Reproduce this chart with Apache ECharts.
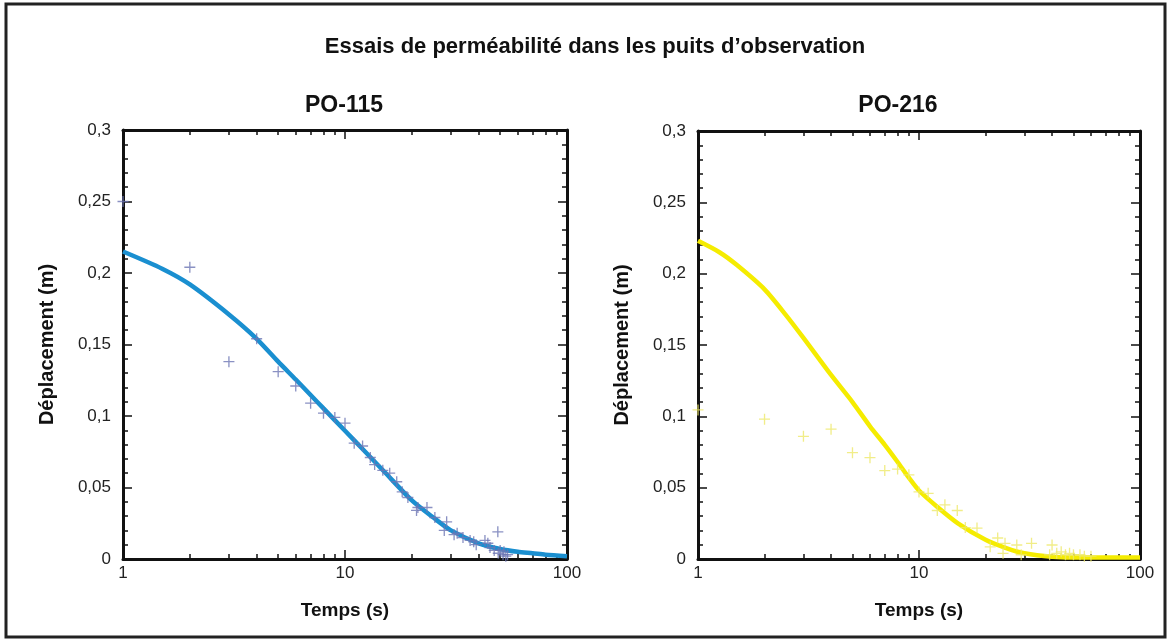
<!DOCTYPE html>
<html>
<head>
<meta charset="utf-8">
<script src="https://cdn.jsdelivr.net/npm/echarts@6/dist/echarts.min.js"></script>
<style>
html,body{margin:0;padding:0;background:#fff;}
#chart{width:1171px;height:642px;}
</style>
</head>
<body>
<div id="chart"></div>
<script>
// ---- data ----
var mainTitle = "Essais de perméabilité dans les puits d’observation";
var panelTitles = ["PO-115", "PO-216"];
var yAxisName = "Déplacement (m)";
var xAxisName = "Temps (s)";
var minorTickValues = [2,3,4,5,6,7,8,9,20,30,40,50,60,70,80,90];

var po115Times = [1,2,3,4,5,6,7,8,9,10,11,12,13,13.6,14.8,15.9,17.1,18.1,19.2,21,21.3,23.4,25.4,28,28.7,31,32,34,36.6,38,39,42.7,44,45,47,48.8,49,50,51.5,52,53,54];
var po115Obs   = [0.25,0.204,0.138,0.154,0.131,0.121,0.109,0.102,0.099,0.095,0.081,0.079,0.071,0.066,0.062,0.060,0.054,0.047,0.043,0.034,0.036,0.036,0.029,0.020,0.026,0.017,0.018,0.015,0.013,0.012,0.010,0.013,0.011,0.008,0.006,0.019,0.004,0.006,0.003,0.005,0.002,0.003];
var po115FitTimes = [1,1.5,2,3,4,5,6,7,8,10,12,15,20,25,30,40,50,60,70,80,100];
var po115Fit      = [0.215,0.203,0.192,0.171,0.154,0.138,0.1255,0.1147,0.1053,0.0897,0.0769,0.0612,0.041,0.029,0.020,0.011,0.007,0.005,0.004,0.003,0.002];

var po216Times = [1,2,3,4,5,6,7,8,9,10,11,12.1,13.1,14.9,16.2,18.3,21,22.7,24,24.5,27.7,29,32.3,39,40,42,44,46,48,50,53.5,56,60];
var po216Obs   = [0.1045,0.098,0.086,0.091,0.0745,0.071,0.062,0.063,0.059,0.047,0.046,0.034,0.038,0.034,0.022,0.0217,0.0085,0.0147,0.004,0.011,0.0098,0.003,0.011,0.003,0.0098,0.004,0.005,0.003,0.004,0.003,0.003,0.002,0.002];
var po216FitTimes = [1,1.25,1.5,2,2.5,3,4,5,6,7,8,9,10,12,15,20,25,30,40,50,70,100];
var po216Fit      = [0.223,0.215,0.206,0.189,0.171,0.155,0.129,0.110,0.093,0.080,0.068,0.057,0.048,0.037,0.025,0.0135,0.0075,0.004,0.0015,0.001,0.001,0.001];

function pairs(xs, ys){ return xs.map(function(x,i){ return [x, ys[i]]; }); }

var FONT = "Liberation Sans, Arial, sans-serif";
var plusPath = 'path://M4.4,0h1.2v4.4h4.4v1.2h-4.4v4.4h-1.2v-4.4h-4.4v-1.2h4.4z';

var grids = [
  {left:123, top:130, width:444, height:429},
  {left:698, top:131, width:442, height:428}
];

var xAxes = [], yAxes = [];
grids.forEach(function(g, gi){
  ['bottom','top'].forEach(function(pos){
    xAxes.push({
      type:'log', logBase:10, min:1, max:100, gridIndex:gi, position:pos,
      axisLine:{show:true, lineStyle:{color:'#111', width:3}},
      axisTick:{show:true, inside:true, length:9, lineStyle:{color:'#111', width:1.5}},
      axisLabel:{show: pos==='bottom', color:'#222', fontSize:17, fontFamily:FONT, margin:6},
      splitLine:{show:false},
      name: pos==='bottom' ? xAxisName : '',
      nameLocation:'middle', nameGap:42,
      nameTextStyle:{fontSize:19, fontWeight:'bold', color:'#111', fontFamily:FONT}
    });
    xAxes.push({
      type:'log', logBase:10, min:1, max:100, gridIndex:gi, position:pos,
      axisLine:{show:false},
      axisTick:{show:true, inside:true, length:5, customValues:minorTickValues, lineStyle:{color:'#111', width:1.5}},
      axisLabel:{show:false},
      splitLine:{show:false}
    });
  });
  ['left','right'].forEach(function(pos){
    yAxes.push({
      type:'value', min:0, max:0.3, interval:0.05, gridIndex:gi, position:pos,
      axisLine:{show:true, lineStyle:{color:'#111', width:3}},
      axisTick:{show:true, inside:true, length:9, lineStyle:{color:'#111', width:1.5}},
      minorTick:{show:true, splitNumber:5, length:5, lineStyle:{color:'#111', width:1.5}},
      axisLabel:{show: pos==='left', color:'#222', fontSize:17, fontFamily:FONT, margin:12,
        formatter:function(v){ return (+v.toFixed(2)).toString().replace('.', ','); }},
      splitLine:{show:false},
      name: pos==='left' ? yAxisName : '',
      nameLocation:'middle', nameGap:66, nameRotate:90,
      nameTextStyle:{fontSize:20, fontWeight:'bold', color:'#111', fontFamily:FONT}
    });
  });
});

var option = {
  backgroundColor:'#fff',
  animation:false,
  grid: grids,
  xAxis: xAxes,
  yAxis: yAxes,
  graphic: [
    {type:'rect', shape:{x:6, y:4, width:1159, height:633}, style:{fill:'none', stroke:'#222', lineWidth:3}, silent:true},
    {type:'text', x:595, y:47, style:{text:mainTitle, font:'bold 22px '+FONT, fill:'#111', align:'center', verticalAlign:'middle'}},
    {type:'text', x:344, y:106, style:{text:panelTitles[0], font:'bold 23px '+FONT, fill:'#111', align:'center', verticalAlign:'middle'}},
    {type:'text', x:898, y:106, style:{text:panelTitles[1], font:'bold 23px '+FONT, fill:'#111', align:'center', verticalAlign:'middle'}}
  ],
  series: [
    {type:'line', xAxisIndex:0, yAxisIndex:0, data:pairs(po115FitTimes, po115Fit), smooth:0.25, showSymbol:false,
      lineStyle:{color:'#1a8fd0', width:4.5}, z:2},
    {type:'scatter', xAxisIndex:0, yAxisIndex:0, data:pairs(po115Times, po115Obs), symbol:plusPath, symbolSize:11,
      itemStyle:{color:'#6d76b4'}, z:3, clip:true},
    {type:'line', xAxisIndex:4, yAxisIndex:2, data:pairs(po216FitTimes, po216Fit), smooth:0.25, showSymbol:false,
      lineStyle:{color:'#f5ec00', width:4.5}, z:2},
    {type:'scatter', xAxisIndex:4, yAxisIndex:2, data:pairs(po216Times, po216Obs), symbol:plusPath, symbolSize:11,
      itemStyle:{color:'#eee86a'}, z:3, clip:true}
  ]
};

var chart = echarts.init(document.getElementById('chart'), null, {renderer:'canvas'});
chart.setOption(option);
</script>
</body>
</html>
